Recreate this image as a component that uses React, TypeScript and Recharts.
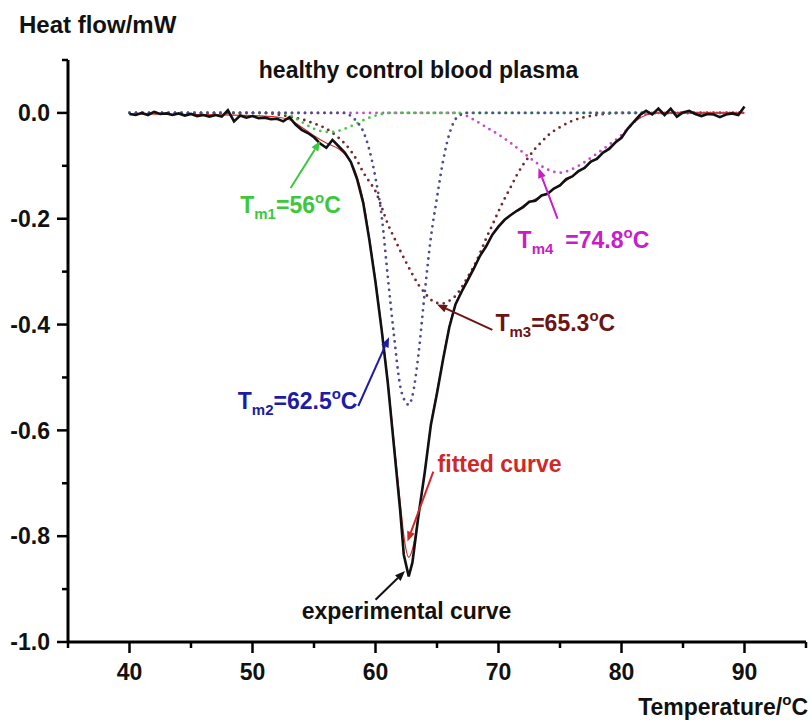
import React from "react"
import { LineChart, Line, XAxis, YAxis, ReferenceLine, ReferenceDot } from "recharts"

const FONT = "'Liberation Sans', Arial, Helvetica, sans-serif"

// [temperature °C, heat flow mW]
const experimental: [number, number][] = [
  [40, -0.002], [40.5, -0.004], [41, 0.0], [41.5, -0.004], [42, 0.002], [42.5, -0.002],
  [43, -0.001], [43.5, -0.004], [44, -0.001], [44.5, -0.005], [45, -0.002], [45.5, -0.006],
  [46, -0.004], [46.5, -0.007], [47, -0.004], [47.5, -0.007], [48, 0.005], [48.5, -0.016],
  [49, -0.005], [49.5, -0.009], [50, -0.006], [50.5, -0.01], [51, -0.009], [51.5, -0.012],
  [52, -0.011], [52.5, -0.016], [53, -0.008], [53.5, -0.022], [54, -0.032], [54.5, -0.038],
  [55, -0.046], [55.5, -0.058], [56, -0.066], [56.5, -0.051], [57, -0.063], [57.5, -0.075],
  [58, -0.093], [58.5, -0.125], [59, -0.17], [59.5, -0.24], [60, -0.32], [60.5, -0.41],
  [61, -0.51], [61.5, -0.63], [62, -0.75], [62.3, -0.835], [62.7, -0.876], [63, -0.85],
  [63.5, -0.76], [64, -0.68], [64.5, -0.59], [65, -0.53], [65.5, -0.465], [66, -0.405],
  [66.5, -0.362], [67, -0.338], [67.5, -0.316], [68, -0.294], [68.5, -0.27], [69, -0.252],
  [69.5, -0.23], [70, -0.215], [70.5, -0.202], [71, -0.193], [71.5, -0.185], [72, -0.178],
  [72.5, -0.168], [73, -0.166], [73.5, -0.156], [74, -0.153], [74.5, -0.143], [75, -0.137],
  [75.5, -0.125], [76, -0.12], [76.5, -0.11], [77, -0.104], [77.5, -0.092], [78, -0.087],
  [78.5, -0.075], [79, -0.068], [79.5, -0.056], [80, -0.047], [80.5, -0.03], [81, -0.017],
  [81.5, -0.004], [82, 0.004], [82.5, -0.003], [83, 0.008], [83.5, -0.004], [84, 0.008],
  [84.5, -0.007], [85, 0.001], [85.5, 0.004], [86, -0.002], [86.5, -0.006], [87, -0.002],
  [87.5, -0.003], [88, -0.008], [88.5, -0.003], [89, -0.001], [89.5, -0.004], [90, 0.012],
]

const fitted: [number, number][] = [
  [40, -0.002], [45, -0.003], [50, -0.005], [52, -0.008], [53, -0.013], [54, -0.027],
  [55, -0.043], [56, -0.057], [57, -0.068], [57.5, -0.078], [58, -0.093], [58.5, -0.12],
  [59, -0.165], [59.5, -0.235], [60, -0.315], [60.5, -0.405], [61, -0.505], [61.5, -0.62],
  [62, -0.735], [62.4, -0.815], [62.7, -0.84], [63, -0.825], [63.5, -0.76], [64, -0.68],
  [64.5, -0.59], [65, -0.525], [65.5, -0.462], [66, -0.403], [66.5, -0.362], [67, -0.336],
  [68, -0.292], [69, -0.25], [70, -0.213], [71, -0.193], [72, -0.176], [73, -0.163],
  [74, -0.151], [75, -0.136], [76, -0.12], [77, -0.103], [78, -0.085], [79, -0.066],
  [80, -0.045], [81, -0.018], [82, -0.004], [83, 0], [90, 0],
]

// deconvoluted components
const tm1: [number, number][] = [
  [40, 0], [52, 0], [53, -0.004], [53.5, -0.01], [54, -0.017], [54.5, -0.024], [55, -0.03],
  [55.5, -0.034], [56, -0.036], [56.5, -0.036], [57, -0.034], [57.5, -0.03], [58, -0.025],
  [58.5, -0.02], [59, -0.014], [59.5, -0.009], [60, -0.005], [60.5, -0.002], [61, 0], [90, 0],
]

const tm2: [number, number][] = [
  [40, 0], [57.5, 0], [58, -0.006], [58.5, -0.017], [59, -0.035], [59.5, -0.07], [60, -0.123],
  [60.5, -0.195], [61, -0.31], [61.5, -0.42], [62, -0.515], [62.5, -0.548], [62.7, -0.552],
  [63, -0.535], [63.5, -0.455], [64, -0.34], [64.5, -0.236], [65, -0.16], [65.5, -0.09],
  [66, -0.04], [66.5, -0.012], [67, -0.003], [67.5, 0], [90, 0],
]

const tm3: [number, number][] = [
  [40, 0], [51, 0], [52, -0.003], [53, -0.007], [54, -0.012], [55, -0.02], [56, -0.03],
  [57, -0.047], [58, -0.072], [58.5, -0.09], [59, -0.112], [59.5, -0.13], [60, -0.148],
  [60.5, -0.178], [61, -0.21], [61.5, -0.235], [62, -0.26], [62.5, -0.283], [63, -0.305],
  [63.5, -0.325], [64, -0.34], [64.5, -0.353], [65, -0.359], [65.5, -0.36], [66, -0.355],
  [66.5, -0.346], [67, -0.33], [67.5, -0.31], [68, -0.29], [68.5, -0.265], [69, -0.237],
  [69.5, -0.212], [70, -0.186], [70.5, -0.162], [71, -0.14], [71.5, -0.117], [72, -0.098],
  [72.5, -0.082], [73, -0.067], [73.5, -0.055], [74, -0.043], [75, -0.027], [76, -0.015],
  [77, -0.008], [78, -0.004], [79, -0.001], [80, 0], [90, 0],
]

const tm4: [number, number][] = [
  [40, 0], [66.5, 0], [67, -0.002], [68, -0.013], [69, -0.027], [70, -0.041], [71, -0.057],
  [72, -0.075], [73, -0.093], [74, -0.107], [75, -0.113], [76, -0.106], [77, -0.093],
  [78, -0.077], [79, -0.06], [80, -0.042], [81, -0.018], [81.5, -0.008], [82.5, 0], [90, 0],
]

const xTicks = [35, 40, 45, 50, 55, 60, 65, 70, 75, 80, 85, 90, 95]
const yTicks = [-1, -0.9, -0.8, -0.7, -0.6, -0.5, -0.4, -0.3, -0.2, -0.1, 0, 0.1]

const toRows = (pts: [number, number][]) => pts.map(([t, v]) => ({ t, v }))

const XTick = (props: any) => {
  const { x, y, payload } = props
  const v = payload.value
  const major = v % 10 === 0
  return (
    <g>
      <line x1={x} y1={y} x2={x} y2={y + (major ? 11 : 6)} stroke="#000" strokeWidth={2.5} />
      {major && (
        <text x={x} y={y + 38} textAnchor="middle" fontSize={23} fontWeight="bold" fontFamily={FONT} fill="#111">
          {v}
        </text>
      )}
    </g>
  )
}

const YTick = (props: any) => {
  const { x, y, payload } = props
  const v = payload.value
  const major = Math.round(v * 10) % 2 === 0
  return (
    <g>
      <line x1={x} y1={y} x2={x - (major ? 11 : 6)} y2={y} stroke="#000" strokeWidth={2.5} />
      {major && (
        <text x={x - 18} y={y} dy="0.36em" textAnchor="end" fontSize={23} fontWeight="bold" fontFamily={FONT} fill="#111">
          {v.toFixed(1)}
        </text>
      )}
    </g>
  )
}

// line with an arrow head at its second point
const arrow = (color: string) => (p: any) => {
  const { x1, y1, x2, y2 } = p
  const a = Math.atan2(y2 - y1, x2 - x1)
  const len = 10
  const w = 4
  const bx = x2 - len * Math.cos(a)
  const by = y2 - len * Math.sin(a)
  const px = -Math.sin(a) * w
  const py = Math.cos(a) * w
  return (
    <g>
      <line x1={x1} y1={y1} x2={bx} y2={by} stroke={color} strokeWidth={2} />
      <polygon points={`${x2},${y2} ${bx + px},${by + py} ${bx - px},${by - py}`} fill={color} />
    </g>
  )
}

const tmLabel = (color: string, sub: string, value: string, gap = 0) => (p: any) => (
  <text x={p.cx} y={p.cy} fill={color} fontFamily={FONT} fontWeight="bold" fontSize={23}>
    <tspan>T</tspan>
    <tspan fontSize={15} dy={6}>{sub}</tspan>
    <tspan dy={-6} dx={gap}>={value}</tspan>
    <tspan fontSize={15} dy={-10}>o</tspan>
    <tspan dy={10}>C</tspan>
  </text>
)

const plainLabel = (color: string, text: string, size: number, anchor = "start") => (p: any) => (
  <text x={p.cx} y={p.cy} fill={color} fontFamily={FONT} fontWeight="bold" fontSize={size} textAnchor={anchor}>
    {text}
  </text>
)

const dotted = {
  dot: false,
  activeDot: false,
  isAnimationActive: false,
  strokeWidth: 2.8,
  strokeDasharray: "0 6.5",
  strokeLinecap: "round" as const,
  type: "monotone" as const,
}

export default function App() {
  return (
    <div style={{ position: "absolute", left: 0, top: 0, width: 811, height: 720, background: "#fff" }}>
      <LineChart width={811} height={720} margin={{ top: 60, right: 5, bottom: 48, left: 0 }}>
        <XAxis
          dataKey="t"
          type="number"
          domain={[35, 95]}
          ticks={xTicks}
          interval={0}
          allowDataOverflow
          height={30}
          tickLine={false}
          tickSize={0}
          tickMargin={0}
          axisLine={{ stroke: "#000", strokeWidth: 3 }}
          tick={<XTick />}
        />
        <YAxis
          dataKey="v"
          type="number"
          domain={[-1, 0.1]}
          ticks={yTicks}
          interval={0}
          allowDataOverflow
          width={68}
          tickLine={false}
          tickSize={0}
          tickMargin={0}
          axisLine={{ stroke: "#000", strokeWidth: 3 }}
          tick={<YTick />}
        />

        <Line data={toRows(tm4)} dataKey="v" stroke="#c64ac6" {...dotted} />
        <Line data={toRows(tm3)} dataKey="v" stroke="#74282a" {...dotted} />
        <Line data={toRows(tm1)} dataKey="v" stroke="#45c845" {...dotted} />
        <Line data={toRows(tm2)} dataKey="v" stroke="#4a4a98" {...dotted} />
        <Line data={toRows(fitted)} dataKey="v" stroke="#d42a2a" strokeWidth={1.2} type="monotone" dot={false} activeDot={false} isAnimationActive={false} />
        <Line data={toRows(experimental)} dataKey="v" stroke="#111" strokeWidth={2.6} type="linear" dot={false} activeDot={false} isAnimationActive={false} />

        <ReferenceLine segment={[{ x: 53.1, y: -0.142 }, { x: 55.5, y: -0.053 }]} shape={arrow("#3cc83c")} />
        <ReferenceLine segment={[{ x: 58.6, y: -0.554 }, { x: 61.1, y: -0.424 }]} shape={arrow("#1c1ca8")} />
        <ReferenceLine segment={[{ x: 69.5, y: -0.41 }, { x: 65.0, y: -0.362 }]} shape={arrow("#6e1414")} />
        <ReferenceLine segment={[{ x: 74.8, y: -0.2 }, { x: 73.25, y: -0.104 }]} shape={arrow("#c81ec8")} />
        <ReferenceLine segment={[{ x: 64.7, y: -0.678 }, { x: 62.6, y: -0.81 }]} shape={arrow("#d02828")} />
        <ReferenceLine segment={[{ x: 60.0, y: -0.92 }, { x: 62.4, y: -0.866 }]} shape={arrow("#111")} />

        <ReferenceDot x={49.0} y={-0.189} r={0} shape={tmLabel("#3cc83c", "m1", "56")} />
        <ReferenceDot x={48.8} y={-0.56} r={0} shape={tmLabel("#1c1ca8", "m2", "62.5")} />
        <ReferenceDot x={69.75} y={-0.412} r={0} shape={tmLabel("#6e1414", "m3", "65.3")} />
        <ReferenceDot x={71.55} y={-0.255} r={0} shape={tmLabel("#c81ec8", "m4", "74.8", 12)} />
        <ReferenceDot x={65.05} y={-0.679} r={0} shape={plainLabel("#d02828", "fitted curve", 23)} />
        <ReferenceDot x={54.0} y={-0.956} r={0} shape={plainLabel("#111", "experimental curve", 23)} />
        <ReferenceDot x={63.5} y={0.066} r={0} shape={plainLabel("#111", "healthy control blood plasma", 23, "middle")} />
      </LineChart>

      <svg width={811} height={720} style={{ position: "absolute", left: 0, top: 0, pointerEvents: "none" }}>
        <text x={19} y={33} fontFamily={FONT} fontWeight="bold" fontSize={24} fill="#111">
          Heat flow/mW
        </text>
        <text x={808} y={715} textAnchor="end" fontFamily={FONT} fontWeight="bold" fontSize={23} fill="#111">
          <tspan>Temperature/</tspan>
          <tspan fontSize={15} dy={-10}>o</tspan>
          <tspan dy={10}>C</tspan>
        </text>
      </svg>
    </div>
  )
}
